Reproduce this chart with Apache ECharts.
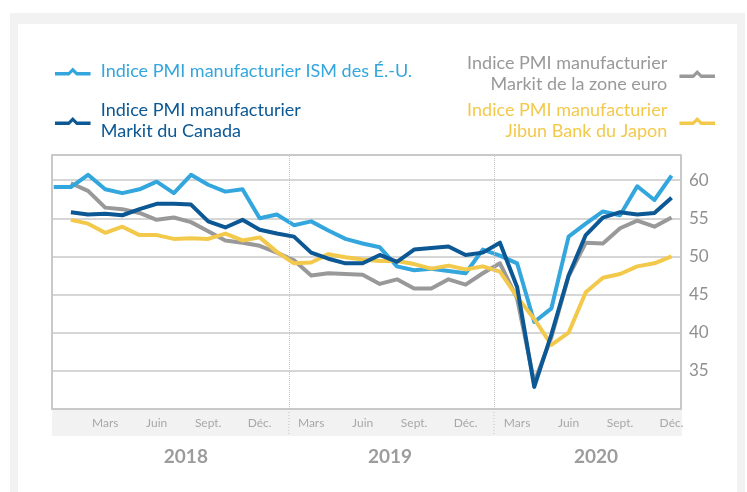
<!DOCTYPE html>
<html>
<head>
<meta charset="utf-8">
<script src="https://cdn.jsdelivr.net/npm/echarts@6/dist/echarts.min.js"></script>
<style>
  html, body { margin: 0; padding: 0; background: #fff; }
  #main { width: 747px; height: 492px; }
</style>
</head>
<body>
<div id="main"></div>
<script>
// index 0 = déc. 2017, 1 = janv. 2018 ... 36 = déc. 2020
var ism = [59.1, 59.1, 60.7, 58.8, 58.3, 58.8, 59.8, 58.3, 60.7, 59.4, 58.5, 58.8, 55.0,
    55.5, 54.1, 54.6, 53.4, 52.3, 51.7, 51.2, 48.7, 48.2, 48.4, 48.1, 47.8,
    50.9, 50.1, 49.1, 41.4, 43.2, 52.6, 54.3, 55.9, 55.4, 59.2, 57.4, 60.6];
var canada = [null, 55.8, 55.5, 55.6, 55.4, 56.2, 56.9, 56.9, 56.8, 54.6, 53.8, 54.8, 53.5,
    53.0, 52.6, 50.5, 49.7, 49.1, 49.1, 50.2, 49.3, 50.9, 51.1, 51.3, 50.2,
    50.5, 51.8, 46.0, 32.9, 39.8, 47.5, 52.8, 55.1, 55.8, 55.5, 55.7, 57.7];
var euro = [null, 59.6, 58.6, 56.4, 56.2, 55.7, 54.8, 55.1, 54.5, 53.3, 52.1, 51.8, 51.4,
    50.5, 49.5, 47.5, 47.8, 47.7, 47.6, 46.4, 47.0, 45.8, 45.8, 47.0, 46.3,
    47.8, 49.1, 44.5, 33.5, 39.4, 47.4, 51.8, 51.7, 53.7, 54.7, 53.9, 55.1];
var japan = [null, 54.8, 54.3, 53.1, 53.9, 52.8, 52.8, 52.3, 52.4, 52.3, 53.0, 52.1, 52.5,
    50.6, 49.1, 49.2, 50.3, 49.9, 49.6, 49.4, 49.4, 49.0, 48.4, 48.8, 48.3,
    48.7, 48.0, 44.7, 41.8, 38.4, 40.0, 45.3, 47.2, 47.7, 48.7, 49.1, 50.0];

var monthNames = ['Mars', 'Juin', 'Sept.', 'Déc.'];
var years = ['2018', '2019', '2020'];
var yearBreaks = [13.7, 25.65];   // pointillés entre les années
var yearCenters = [7.7, 19.6, 31.6];
var yTicks = [35, 40, 45, 50, 55, 60];

var names = {
    ism: 'Indice PMI manufacturier ISM des É.-U.',
    canada: 'Indice PMI manufacturier\nMarkit du Canada',
    euro: 'Indice PMI manufacturier\nMarkit de la zone euro',
    japan: 'Indice PMI manufacturier\nJibun Bank du Japon'
};
var colors = {
    ism: '#33a6de',
    canada: '#0b5894',
    euro: '#999999',
    japan: '#f3c94c'
};

var FONT = 'Lato';
var legendIcon = 'path://M0,5 L15,5 L20,0 L25,5 L40,5 L40,9 L24,9 L20,5 L16,9 L0,9 Z';

// positions des étiquettes de mois : mars, juin, sept., déc. de chaque année
var monthTicks = [];
for (let y = 0; y < years.length; y++) {
    for (let m = 0; m < monthNames.length; m++) {
        monthTicks.push(y * 12 + (m + 1) * 3);
    }
}

function toPairs(arr) {
    let out = [];
    for (let i = 0; i < arr.length; i++) {
        out.push([i, arr[i]]);
    }
    return out;
}

function makeLegend(key, pos, alignRight) {
    let lg = {
        data: [names[key]],
        top: pos.top,
        itemWidth: 40,
        itemHeight: 8,
        icon: legendIcon,
        padding: 0,
        selectedMode: false,
        align: alignRight ? 'right' : 'left',
        textStyle: {
            color: colors[key],
            fontFamily: FONT,
            fontSize: 18,
            lineHeight: 21,
            align: alignRight ? 'right' : 'left',
            padding: alignRight ? [0, 5, 0, 0] : [0, 0, 0, 3]
        }
    };
    if (alignRight) lg.right = pos.right; else lg.left = pos.left;
    return lg;
}

function makeLine(key, data, z) {
    return {
        name: names[key],
        type: 'line',
        data: toPairs(data),
        symbol: 'none',
        z: z,
        lineStyle: { color: colors[key], width: 4, join: 'round' },
        itemStyle: { color: colors[key] }
    };
}

var myChart = echarts.init(document.getElementById('main'));

let option = {
    backgroundColor: '#fff',
    animation: false,
    textStyle: { fontFamily: FONT },
    legend: [
        makeLegend('ism', { left: 55, top: 61 }, false),
        makeLegend('canada', { left: 55, top: 100 }, false),
        makeLegend('euro', { right: 32, top: 53 }, true),
        makeLegend('japan', { right: 32, top: 100 }, true)
    ],
    grid: {
        left: 52,
        right: 66,
        top: 155,
        bottom: 83,
        show: true,
        backgroundColor: '#fff',
        borderColor: '#b8b8b8',
        borderWidth: 1.5
    },
    xAxis: [{
        type: 'value',
        min: -0.1,
        max: 36.55,
        axisLine: { show: false },
        axisTick: { show: false },
        splitLine: { show: false },
        axisLabel: {
            customValues: monthTicks,
            color: '#a8a8a8',
            fontSize: 12,
            margin: 8,
            formatter: function (v) {
                return monthNames[(Math.round(v) / 3 - 1) % 4];
            }
        }
    }, {
        type: 'value',
        position: 'bottom',
        offset: 34,
        min: -0.1,
        max: 36.55,
        axisLine: { show: false },
        axisTick: { show: false },
        splitLine: { show: false },
        axisLabel: {
            customValues: yearCenters,
            color: '#9c9c9c',
            fontSize: 19,
            fontWeight: 'bold',
            margin: 4,
            formatter: function (v) {
                return years[yearCenters.indexOf(v)];
            }
        }
    }],
    yAxis: {
        type: 'value',
        position: 'right',
        min: 30,
        max: 63.3,
        interval: 5,
        axisLine: { show: false },
        axisTick: { show: false },
        axisLabel: {
            color: '#8f8f8f',
            fontSize: 17,
            margin: 8,
            formatter: function (v) {
                return yTicks.indexOf(v) >= 0 ? String(v) : '';
            }
        },
        splitLine: { lineStyle: { color: '#c8c8c8', width: 1.5 } }
    },
    series: [
        Object.assign(makeLine('euro', euro, 2), {
            markLine: {
                silent: true,
                symbol: 'none',
                label: { show: false },
                lineStyle: { color: '#c4c4c4', type: 'dotted', width: 1 },
                data: yearBreaks.map(function (v) { return { xAxis: v }; })
            }
        }),
        makeLine('ism', ism, 3),
        makeLine('japan', japan, 4),
        makeLine('canada', canada, 5)
    ]
};

myChart.setOption(option, true);

// cadre gris, bande des mois et prolongement des pointillés
var gridRect = myChart.getModel().getComponent('grid').coordinateSystem.getRect();
var bandTop = gridRect.y + gridRect.height;
var graphics = [{
    type: 'rect',
    z: -11,
    shape: { x: 10, y: 13, width: 735, height: 479 },
    style: { fill: '#f2f2f2' }
}, {
    type: 'rect',
    z: -10,
    shape: { x: 18, y: 24, width: 719, height: 468 },
    style: { fill: '#fff' }
}, {
    type: 'rect',
    z: -5,
    shape: { x: gridRect.x, y: bandTop, width: gridRect.width + 1, height: 27 },
    style: { fill: '#f2f2f2' }
}];
yearBreaks.forEach(function (v) {
    let px = myChart.convertToPixel({ xAxisIndex: 0 }, v);
    graphics.push({
        type: 'line',
        z: 1,
        shape: { x1: px, y1: bandTop, x2: px, y2: bandTop + 27 },
        style: { stroke: '#c4c4c4', lineWidth: 1, lineDash: [1, 2] }
    });
});
myChart.setOption({ graphic: graphics });
</script>
</body>
</html>
